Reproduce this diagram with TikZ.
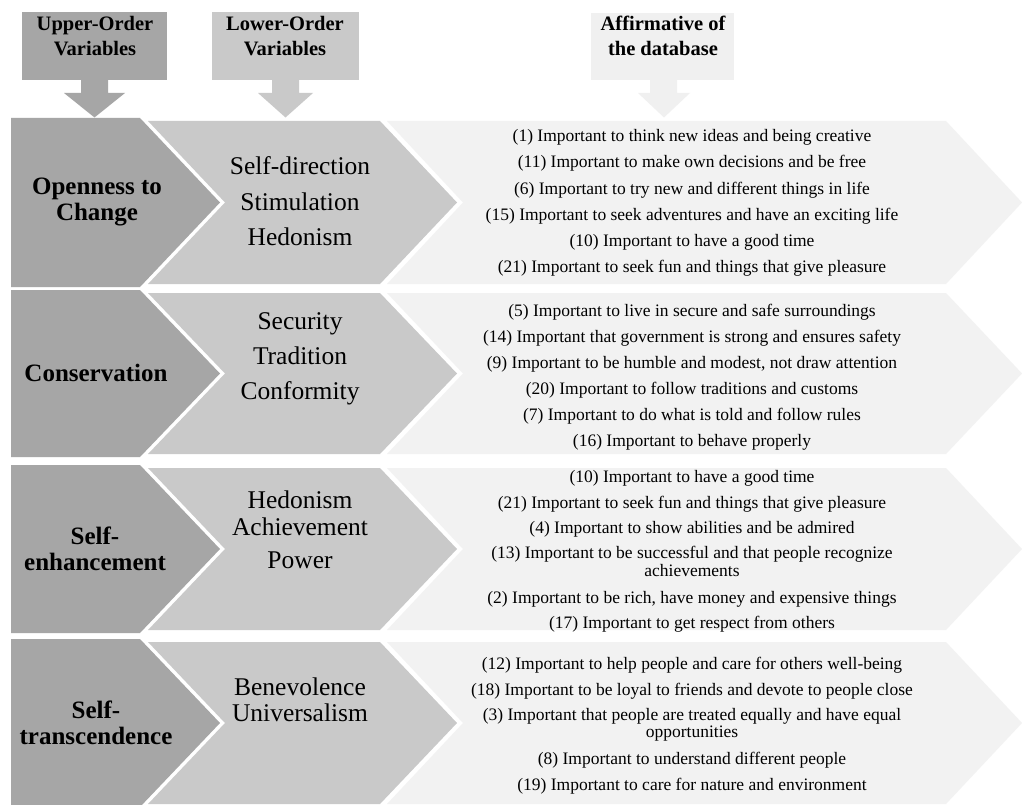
\documentclass[tikz,border=0pt]{standalone}
\usepackage{fontspec}
\setmainfont{Liberation Serif}
\definecolor{dk}{HTML}{A6A6A6}
\definecolor{md}{HTML}{C9C9C9}
\definecolor{lt}{HTML}{F2F2F2}
\definecolor{hb}{HTML}{F0F0F0}
\tikzset{
  hdrtxt/.style={font=\bfseries\fontsize{20.5}{25}\selectfont, align=center, inner sep=0pt},
  grptxt/.style={font=\bfseries\fontsize{25}{26}\selectfont, align=center, inner sep=0pt},
  subtxt/.style={font=\fontsize{25.5}{30}\selectfont, inner sep=0pt, text height=17pt, text depth=0pt},
  itmtxt/.style={font=\fontsize{17.5}{19}\selectfont, inner sep=0pt, text height=12pt, text depth=0pt},
}
% one row of three chevrons: #1 top, #2 bottom
\newcommand\chevrow[2]{%
  \pgfmathsetmacro\rowm{(#1+#2)/2}%
  \pgfmathsetmacro\rowti{#1+3}%
  \pgfmathsetmacro\rowbi{#2-3}%
  \fill[lt] (387,\rowti) -- (946,\rowti) -- (1022,\rowm) -- (946,\rowbi) -- (387,\rowbi) -- (463,\rowm) -- cycle;
  \fill[md] (148,\rowti) -- (380,\rowti) -- (457,\rowm) -- (380,\rowbi) -- (148,\rowbi) -- (225,\rowm) -- cycle;
  \fill[dk] (11,#1) -- (140,#1) -- (220,\rowm) -- (140,#2) -- (11,#2) -- cycle;
}
\newcommand\itm[3]{\node[itmtxt] (#1) at (692,#2) {#3};}
\newcommand\subl[3]{\node[subtxt] (#1) at (300,#2) {#3};}
\begin{document}
\begin{tikzpicture}[x=1pt,y=-1pt]
\useasboundingbox (0,0) rectangle (1022,805);
\fill[white] (0,0) rectangle (1022,805);

% header boxes with down arrows
\fill[dk] (22,12) rectangle (167,80);
\fill[dk] (81,79) -- (108,79) -- (108,93) -- (125,93) -- (94.5,117.5) -- (64,93) -- (81,93) -- cycle;
\fill[md] (212,12) rectangle (359,80);
\fill[md] (272,79) -- (299,79) -- (299,93) -- (313,93) -- (285.5,117.5) -- (258,93) -- (272,93) -- cycle;
\fill[hb] (591,13) rectangle (734,80);
\fill[hb] (650,79) -- (677,79) -- (677,93) -- (690,93) -- (664,117.5) -- (638,93) -- (650,93) -- cycle;
\node[hdrtxt] (hupper) at (95,36) {Upper-Order\\Variables};
\node[hdrtxt] (hlower) at (285,36) {Lower-Order\\Variables};
\node[hdrtxt] (haff) at (663,36) {Affirmative of\\the database};

% rows
\chevrow{118}{287}
\chevrow{290}{457}
\chevrow{465}{633}
\chevrow{639}{807}

% upper-order labels
\node[grptxt] (g1) at (97,202) {Openness to\\Change};
\node[grptxt] (g2) at (96,373) {Conservation};
\node[grptxt] (g3) at (95,549) {Self-\\enhancement};
\node[grptxt] (g4) at (96,723) {Self-\\transcendence};

% lower-order labels
\subl{s11}{166}{Self-direction}
\subl{s12}{202}{Stimulation}
\subl{s13}{237}{Hedonism}
\subl{s21}{321}{Security}
\subl{s22}{356}{Tradition}
\subl{s23}{391}{Conformity}
\subl{s31}{500}{Hedonism}
\subl{s32}{527}{Achievement}
\subl{s33}{560}{Power}
\subl{s41}{687}{Benevolence}
\subl{s42}{713}{Universalism}

% items
\itm{i11}{136}{(1) Important to think new ideas and being creative}
\itm{i12}{162}{(11) Important to make own decisions and be free}
\itm{i13}{188}{(6) Important to try new and different things in life}
\itm{i14}{214}{(15) Important to seek adventures and have an exciting life}
\itm{i15}{240}{(10) Important to have a good time}
\itm{i16}{266}{(21) Important to seek fun and things that give pleasure}

\itm{i21}{310}{(5) Important to live in secure and safe surroundings}
\itm{i22}{336}{(14) Important that government is strong and ensures safety}
\itm{i23}{362}{(9) Important to be humble and modest, not draw attention}
\itm{i24}{388}{(20) Important to follow traditions and customs}
\itm{i25}{414}{(7) Important to do what is told and follow rules}
\itm{i26}{440}{(16) Important to behave properly}

\itm{i31}{476}{(10) Important to have a good time}
\itm{i32}{502}{(21) Important to seek fun and things that give pleasure}
\itm{i33}{527}{(4) Important to show abilities and be admired}
\itm{i34}{552}{(13) Important to be successful and that people recognize}
\itm{i34b}{570}{achievements}
\itm{i35}{597}{(2) Important to be rich, have money and expensive things}
\itm{i36}{622}{(17) Important to get respect from others}

\itm{i41}{663}{(12) Important to help people and care for others well-being}
\itm{i42}{689}{(18) Important to be loyal to friends and devote to people close}
\itm{i43}{714}{(3) Important that people are treated equally and have equal}
\itm{i43b}{731}{opportunities}
\itm{i44}{758}{(8) Important to understand different people}
\itm{i45}{784}{(19) Important to care for nature and environment}
\end{tikzpicture}
\end{document}
